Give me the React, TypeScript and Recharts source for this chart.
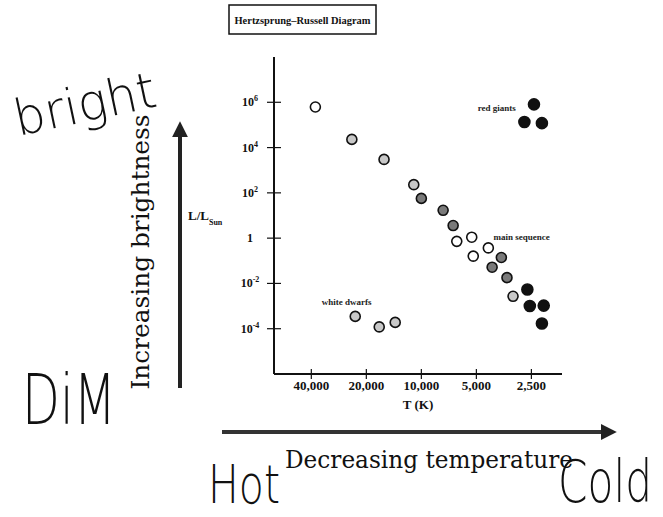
import { ReferenceDot, Scatter, ScatterChart, XAxis, YAxis } from "recharts";

// axis ticks
const tempTicks = [40000, 20000, 10000, 5000, 2500];
const lumTicks = [1e-4, 1e-2, 1, 1e2, 1e4, 1e6];
const lumTickLabels = ["-4", "-2", "", "2", "4", "6"];

// open (unshaded) stars
const openTemps = [38000, 6400, 5300, 5200, 4300];
const openLums = [6.2e5, 0.72, 1.1, 0.16, 0.37];

// lightly speckled stars
const lightTemps = [24000, 16000, 11000, 3150, 23000, 17000, 13900];
const lightLums = [2.3e4, 3000, 230, 0.0027, 3.5e-4, 1.2e-4, 1.9e-4];

// darker speckled stars
const greyTemps = [10000, 7600, 6700, 3650, 4100, 3400];
const greyLums = [57, 17, 3.6, 0.14, 0.052, 0.018];

// solid stars
const darkTemps = [2420, 2730, 2190, 2630, 2550, 2140, 2190];
const darkLums = [8.1e5, 1.35e5, 1.2e5, 0.0054, 0.001, 0.00105, 1.7e-4];

// region captions
const regionNames = ["red giants", "main sequence", "white dwarfs"];
const regionTemps = [3870, 2825, 25600];
const regionLums = [6e5, 1.2, 1.5e-3];

const toPoints = (temps: number[], lums: number[]) =>
  temps.map((t, i) => ({ t, l: lums[i] }));

const SERIF = "'Liberation Serif', 'DejaVu Serif', serif";
const HAND = "'DejaVu Sans', sans-serif";

function star(fill: string, r = 5) {
  return (props: any) => (
    <circle
      cx={props.cx}
      cy={props.cy}
      r={r}
      fill={fill}
      stroke="#111"
      strokeWidth={1.6}
    />
  );
}

const TempTick = ({ x, y, payload }: any) => (
  <g>
    <line x1={x} x2={x} y1={y - 5} y2={y + 5} stroke="#111" strokeWidth={1.2} />
    <text
      x={x}
      y={y + 16}
      textAnchor="middle"
      fontFamily={SERIF}
      fontSize={13}
      fontWeight="bold"
      fill="#111"
    >
      {payload.value.toLocaleString("en-US")}
    </text>
  </g>
);

const LumTick = ({ x, y, payload, index }: any) => {
  const sup = lumTickLabels[lumTicks.indexOf(payload.value)] ?? "";
  return (
    <g key={index}>
      <line x1={x - 7} x2={x + 7} y1={y} y2={y} stroke="#111" strokeWidth={1.2} />
      <text
        x={x - 24}
        y={y + 4}
        textAnchor="middle"
        fontFamily={SERIF}
        fontSize={12}
        fontWeight="bold"
        fill="#111"
      >
        {sup === "" ? (
          "1"
        ) : (
          <>
            10
            <tspan dy={-5} fontSize={8}>
              {sup}
            </tspan>
          </>
        )}
      </text>
    </g>
  );
};

function Annotations() {
  return (
    <svg
      width={663}
      height={517}
      style={{ position: "absolute", left: 0, top: 0, pointerEvents: "none" }}
    >
      <defs>
        <marker id="head" viewBox="0 0 10 10" refX="2" refY="5" markerWidth="4" markerHeight="4" orient="auto">
          <path d="M0,0 L10,5 L0,10 z" fill="#222" />
        </marker>
      </defs>
      {/* title box */}
      <rect x={229} y={5} width={147} height={29} fill="#fff" stroke="#111" strokeWidth={1.5} />
      <text
        x={302.5}
        y={24}
        textAnchor="middle"
        fontFamily={SERIF}
        fontSize={11}
        fontWeight="bold"
        textLength={136}
        lengthAdjust="spacingAndGlyphs"
        fill="#111"
      >
        Hertzsprung–Russell Diagram
      </text>

      {/* L / L sun */}
      <text x={188} y={220} fontFamily={SERIF} fontSize={13} fontWeight="bold" fill="#111">
        L/L
        <tspan dy={5} fontSize={8}>
          Sun
        </tspan>
      </text>

      {/* brightness arrow */}
      <line x1={180} y1={388} x2={180} y2={134} stroke="#222" strokeWidth={4} markerEnd="url(#head)" />
      <text
        transform="translate(149,252) rotate(-90)"
        textAnchor="middle"
        fontFamily="'DejaVu Serif', serif"
        fontSize={24}
        textLength={275}
        lengthAdjust="spacingAndGlyphs"
        fill="#111"
      >
        Increasing brightness
      </text>

      {/* temperature arrow */}
      <line x1={222} y1={432} x2={604} y2={432} stroke="#333" strokeWidth={4} markerEnd="url(#head)" />
      <text
        x={429}
        y={468}
        textAnchor="middle"
        fontFamily="'DejaVu Serif', serif"
        fontSize={24}
        textLength={288}
        lengthAdjust="spacingAndGlyphs"
        fill="#111"
      >
        Decreasing temperature
      </text>

      {/* handwriting */}
      <g fontFamily={HAND} fontWeight={200} fill="#111">
        <text transform="translate(18,136) rotate(-12)" fontSize={50} textLength={144} lengthAdjust="spacingAndGlyphs">
          bright
        </text>
        <text x={22} y={424} fontSize={70} textLength={94} lengthAdjust="spacingAndGlyphs">
          DiM
        </text>
        <text x={208} y={503} fontSize={54} textLength={72} lengthAdjust="spacingAndGlyphs">
          Hot
        </text>
        <text transform="translate(558,502) scale(1,1.3)" fontSize={45} textLength={94} lengthAdjust="spacingAndGlyphs">
          Cold
        </text>
      </g>
    </svg>
  );
}

export default function App() {
  return (
    <div style={{ position: "absolute", left: 0, top: 0, width: 663, height: 517, background: "#fff" }}>
      <ScatterChart
        width={663}
        height={517}
        margin={{ top: 57, right: 101, bottom: 117, left: 0 }}
      >
        <XAxis
          type="number"
          dataKey="t"
          scale="log"
          domain={[1700, 64000]}
          reversed
          allowDataOverflow
          ticks={tempTicks}
          tick={<TempTick />}
          tickLine={false}
          tickSize={0}
          tickMargin={0}
          height={26}
          axisLine={{ stroke: "#111", strokeWidth: 2 }}
          label={{
            value: "T (K)",
            position: "bottom",
            offset: 0,
            fontFamily: SERIF,
            fontSize: 13,
            fontWeight: "bold",
            fill: "#111",
          }}
        />
        <YAxis
          type="number"
          dataKey="l"
          scale="log"
          domain={[1e-6, 1e8]}
          allowDataOverflow
          ticks={lumTicks}
          tick={<LumTick />}
          tickLine={false}
          tickSize={0}
          tickMargin={0}
          width={274}
          axisLine={{ stroke: "#111", strokeWidth: 2 }}
        />
        <Scatter data={toPoints(openTemps, openLums)} shape={star("#fff")} isAnimationActive={false} />
        <Scatter data={toPoints(lightTemps, lightLums)} shape={star("#c8c8c8")} isAnimationActive={false} />
        <Scatter data={toPoints(greyTemps, greyLums)} shape={star("#7a7a7a")} isAnimationActive={false} />
        <Scatter data={toPoints(darkTemps, darkLums)} shape={star("#111", 5.5)} isAnimationActive={false} />
        {regionNames.map((name, i) => (
          <ReferenceDot
            key={name}
            x={regionTemps[i]}
            y={regionLums[i]}
            r={0}
            ifOverflow="visible"
            label={{
              value: name,
              position: "center",
              fontFamily: SERIF,
              fontSize: 9,
              fontWeight: "bold",
              fill: "#222",
            }}
          />
        ))}
      </ScatterChart>
      <Annotations />
    </div>
  );
}
